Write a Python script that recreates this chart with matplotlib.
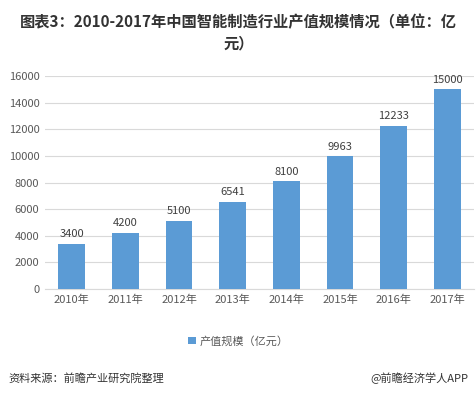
import matplotlib
matplotlib.use("Agg")
import matplotlib.pyplot as plt

plt.rcParams['font.family'] = ['Noto Sans CJK SC', 'DejaVu Sans']

years = ["2010年", "2011年", "2012年", "2013年", "2014年", "2015年", "2016年", "2017年"]
values = [3400, 4200, 5100, 6541, 8100, 9963, 12233, 15000]
yticks = [0, 2000, 4000, 6000, 8000, 10000, 12000, 14000, 16000]

fig = plt.figure(figsize=(4.77, 3.99), dpi=100)
ax = fig.add_axes([0.0943, 0.2757, 0.8994, 0.5338])

x = list(range(len(years)))
bars = ax.bar(x, values, width=0.5, color="#5B9BD5", zorder=3, label="产值规模（亿元）")
for xi, v in zip(x, values):
    ax.text(xi, v + 350, str(v), ha="center", va="bottom", fontsize=8, color="#404040")

ax.set_xlim(-0.5, len(years) - 0.5)
ax.set_ylim(0, 16000)
ax.set_yticks(yticks)
ax.set_yticklabels([str(t) for t in yticks], fontsize=8, color="#595959")
ax.set_xticks(x)
ax.set_xticklabels(years, fontsize=8, color="#595959")
ax.grid(axis="y", color="#D9D9D9", linewidth=0.8, zorder=0)
for s in ["top", "right", "left"]:
    ax.spines[s].set_visible(False)
ax.spines["bottom"].set_color("#D9D9D9")
ax.tick_params(axis="both", length=0, pad=4)

fig.text(0.5, 0.945, "图表3：2010-2017年中国智能制造行业产值规模情况（单位：亿",
         ha="center", va="center", fontsize=11, fontweight="bold", color="#333333")
fig.text(0.5, 0.892, "元）", ha="center", va="center", fontsize=11, fontweight="bold", color="#333333")

fig.legend(handles=[bars], labels=["产值规模（亿元）"], loc="center", bbox_to_anchor=(0.5, 1 - 341 / 399),
           frameon=False, fontsize=8, handlelength=0.7, handleheight=0.7, handletextpad=0.3,
           labelcolor="#595959")

fig.text(8 / 477, 1 - 378 / 399, "资料来源：前瞻产业研究院整理", ha="left", va="center",
         fontsize=8, style="italic", color="#333333")
fig.text(468 / 477, 1 - 378 / 399, "@前瞻经济学人APP", ha="right", va="center",
         fontsize=8, color="#333333")

fig.savefig("out.png", dpi=100, facecolor="white")
